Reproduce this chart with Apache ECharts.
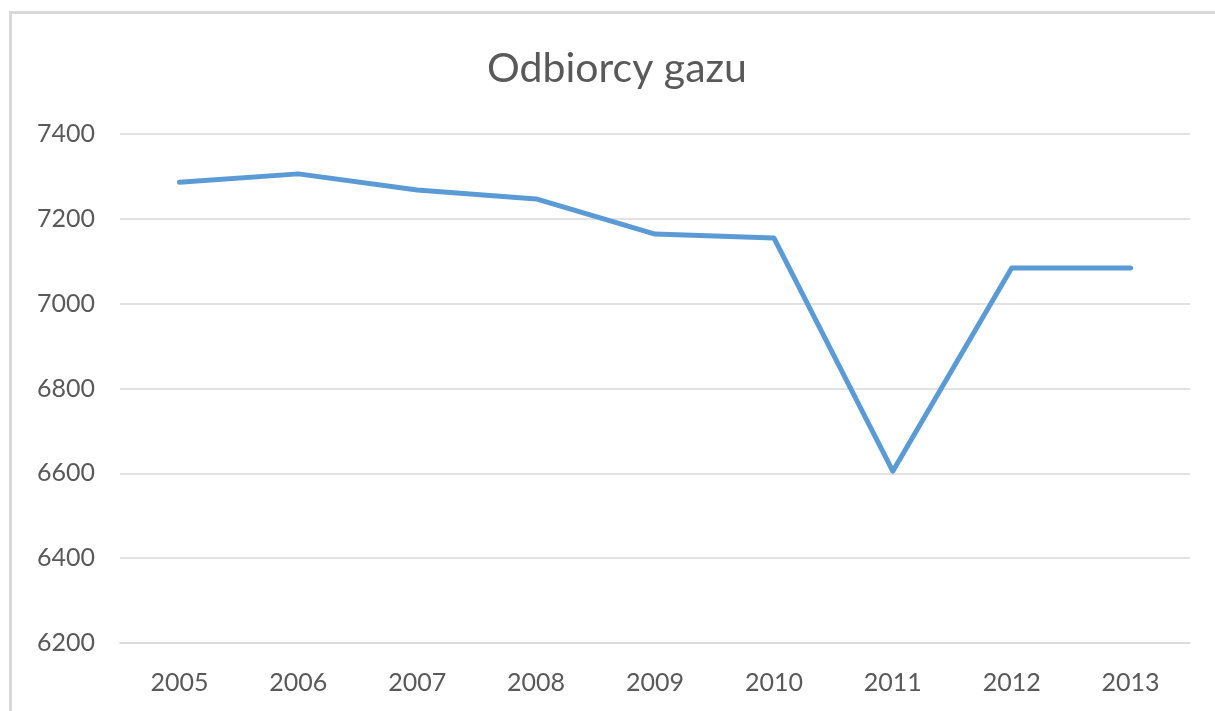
<!DOCTYPE html>
<html>
<head>
<meta charset="utf-8">
<script src="https://cdn.jsdelivr.net/npm/echarts@6/dist/echarts.min.js"></script>
<style>
html,body{margin:0;padding:0;background:#fff;}
#chart{width:1215px;height:711px;}
</style>
</head>
<body>
<div id="chart"></div>
<script>
const titleText = "Odbiorcy gazu";
const categories = ["2005","2006","2007","2008","2009","2010","2011","2012","2013"];
const values = [7286, 7306, 7268, 7247, 7164, 7155, 6605, 7084, 7084];
const yMin = 6200, yMax = 7400, yStep = 200;

const chart = echarts.init(document.getElementById('chart'));
chart.setOption({
  animation: false,
  backgroundColor: '#ffffff',
  graphic: [{
    type: 'rect',
    shape: { x: 10.5, y: 12.5, width: 1230, height: 730 },
    style: { fill: 'none', stroke: '#d9d9d9', lineWidth: 3 },
    silent: true
  }],
  title: {
    text: titleText,
    left: 482,
    top: 43,
    textStyle: { fontFamily: 'Lato', fontSize: 41, fontWeight: 'normal', color: '#595959' }
  },
  grid: { left: 120, right: 25, top: 134, bottom: 68, containLabel: false },
  xAxis: {
    type: 'category',
    data: categories,
    boundaryGap: true,
    axisLine: { show: true, lineStyle: { color: '#d9d9d9', width: 1.5 } },
    axisTick: { show: false },
    axisLabel: { color: '#595959', fontFamily: 'Lato', fontSize: 25, margin: 27 }
  },
  yAxis: {
    type: 'value',
    min: yMin, max: yMax, interval: yStep,
    axisLine: { show: false },
    axisTick: { show: false },
    splitLine: { lineStyle: { color: '#d9d9d9', width: 1.5 } },
    axisLabel: { color: '#595959', fontFamily: 'Lato', fontSize: 25, margin: 25, formatter: v => String(v) }
  },
  series: [{
    type: 'line',
    data: values,
    symbol: 'none',
    lineStyle: { color: '#5B9BD5', width: 5, cap: 'round', join: 'round' }
  }]
});
</script>
</body>
</html>
